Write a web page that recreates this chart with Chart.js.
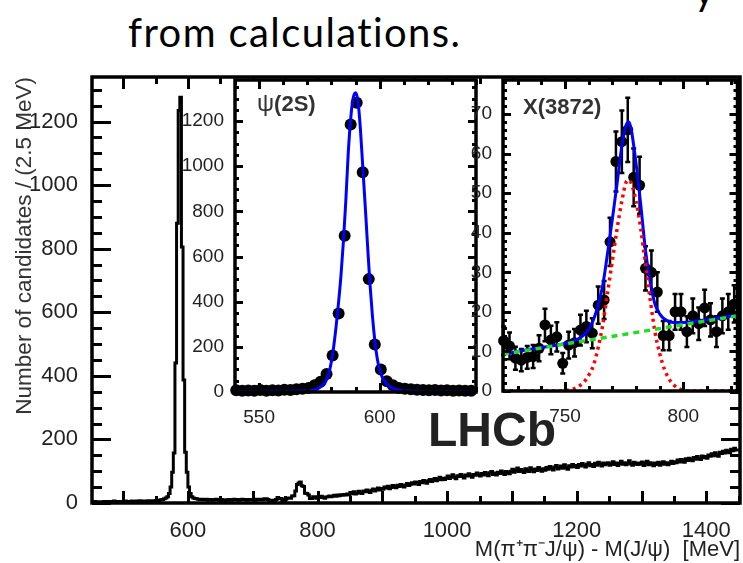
<!DOCTYPE html>
<html lang="en">
<head>
  <meta charset="UTF-8">
  <title>LHCb M(pi pi J/psi) - M(J/psi)</title>
  <script src="https://cdn.jsdelivr.net/npm/chart.js"></script>
  <style>
    body { margin: 0; background: #fff; }
    .page {
      position: relative;
      width: 743px;
      height: 563px;
      overflow: hidden;
      font-family: "Liberation Sans", Arial, sans-serif;
    }
    .page canvas { position: absolute; left: 0; top: 0; }
    .slide-text {
      position: absolute;
      left: 128px;
      top: 12px;
      font-family: Lato, "Open Sans", sans-serif;
      font-size: 40px;
      line-height: 40px;
      letter-spacing: 1.4px;
      color: #000;
      white-space: nowrap;
    }
    .slide-tail { left: 694px; top: -30px; }
    .lhcb {
      position: absolute;
      left: 428px;
      top: 402px;
      font-size: 48px;
      font-weight: bold;
      color: #222;
    }
    .inset-label {
      position: absolute;
      font-size: 22px;
      font-weight: bold;
      color: #333;
    }
    .inset-label .psi { font-weight: normal; font-size: 24px; }
  </style>
</head>
<body>
<div class="page">
  <div class="slide-text slide-tail">y</div>
  <div class="slide-text">from calculations.</div>
  <canvas id="mainChart" width="743" height="563"></canvas>
  <canvas id="psiChart" width="743" height="563"></canvas>
  <canvas id="xChart" width="743" height="563"></canvas>
  <div class="lhcb">LHCb</div>
  <div class="inset-label" style="left:257px; top:89px;"><span class="psi">ψ</span>(2S)</div>
  <div class="inset-label" style="left:523px; top:94px;">X(3872)</div>
</div>

<script>
  // ---- main histogram: candidates per 2.5 MeV, bins starting at 450 MeV ----
  const mainStart = 450;
  const mainBin = 2.5;
  const mainCounts = [
    3, 4, 2, 5, 3, 4, 3, 2, 4, 5, 3, 4, 5, 3, 4, 6, 4, 3, 5, 4,                          // 450-500
    5, 4, 6, 3, 5, 4, 6, 5, 4, 6, 5, 7, 4, 6, 5, 6, 7, 5, 6, 7,                          // 500-550
    6, 8, 7, 9, 10, 11, 13, 16, 20, 30, 50, 97, 157, 440, 880, 1235, 1276, 805, 387, 160, // 550-600
    97, 50, 30, 20, 16, 14, 13, 12, 11, 12, 10, 11, 12, 9, 10, 11, 9, 10, 12, 10,         // 600-650
    9, 11, 10, 8, 10, 9, 11, 10, 9, 12, 10, 11, 9, 10, 12, 11, 10, 9, 11, 10,             // 650-700
    10, 11, 9, 12, 10, 11, 12, 10, 13, 13, 11, 8, 8, 9, 9, 11, 17, 13, 14, 7,             // 700-750
    12, 12, 15, 16, 15, 22, 23, 38, 58, 63, 66, 54, 52, 31, 30, 25, 14, 14, 20, 20,       // 750-800
    15, 19, 17, 21, 18, 15, 19, 20, 22, 20, 22, 24, 21, 25, 23, 26, 24, 27, 25, 28,       // 800-850
    26, 33, 29, 35, 28, 31, 37, 33, 30, 38, 35, 41, 36, 33, 40, 44, 38, 42, 47, 41,       // 850-900
    46, 43, 50, 47, 53, 45, 49, 55, 51, 48, 56, 52, 58, 54, 50, 57, 61, 55, 59, 64,       // 900-950
    60, 66, 63, 58, 68, 64, 71, 67, 62, 70, 74, 68, 72, 77, 70, 75, 81, 73, 78, 74,       // 950-1000
    79, 85, 77, 82, 89, 81, 76, 86, 83, 90, 84, 79, 88, 85, 92, 86, 81, 90, 87, 94,       // 1000-1050
    89, 85, 93, 88, 96, 91, 86, 95, 99, 90, 94, 88, 97, 93, 101, 95, 90, 99, 96, 92,      // 1050-1100
    100, 106, 97, 103, 110, 99, 105, 101, 96, 108, 103, 99, 111, 104, 98, 107, 102, 112, 105, 100, // 1100-1150
    108, 103, 112, 106, 115, 109, 104, 113, 118, 107, 111, 116, 109, 120, 112, 106, 117, 113, 121, 114, // 1150-1200
    118, 112, 121, 116, 124, 119, 113, 122, 127, 117, 121, 115, 125, 119, 128, 122, 116, 126, 120, 124, // 1200-1250
    127, 119, 123, 130, 121, 126, 118, 124, 131, 122, 127, 120, 125, 133, 123, 119, 128, 124, 121, 126, // 1250-1300
    122, 129, 118, 125, 131, 120, 127, 123, 117, 126, 121, 128, 119, 124, 130, 122, 127, 120, 125, 131, // 1300-1350
    124, 130, 127, 135, 129, 137, 132, 128, 139, 134, 141, 136, 133, 143, 138, 146, 140, 137, 148, 142, // 1350-1400
    146, 141, 151, 147, 155, 149, 158, 152, 147, 160, 156, 163, 157, 166, 161, 158, 169, 164, 172, 167  // 1400-1450
  ];
  const mainXTicks = [600, 800, 1000, 1200, 1400];
  const mainYTicks = [0, 200, 400, 600, 800, 1000, 1200];

  // ---- psi(2S) inset ----
  const psiStart = 540.5;
  const psiBin = 2.5;
  const psiCounts = [8, 6, 7, 5, 9, 6, 8, 7, 10, 9, 12, 14, 18, 30, 45, 80, 162, 348, 692, 1185,
                     1281, 973, 500, 210, 100, 48, 30, 18, 14, 12, 10, 9, 8, 9, 7, 8, 6, 7, 6, 5];
  const psiFitX = [541, 560, 566, 570, 572, 574, 575, 576, 577, 578, 579, 580, 581, 582, 583, 584, 585,
                   586, 587, 588, 589, 590, 591, 592, 593, 594, 595, 596, 597, 598, 599, 600, 601, 602,
                   603, 604, 605, 606, 608, 610, 612, 615, 620, 639];
  const psiFitY = [2, 3, 4, 5, 8, 14, 19, 27, 38, 55, 85, 135, 205, 295, 400, 520, 670,
                   850, 1060, 1210, 1300, 1325, 1290, 1170, 1000, 830, 650, 480, 340, 230, 150, 100, 68, 48,
                   35, 26, 20, 15, 9, 6, 4, 3, 2, 2];
  const psiBgX = [540, 640];
  const psiBgY = [1, 1];
  const psiXTicks = [550, 600];
  const psiYTicks = [0, 200, 400, 600, 800, 1000, 1200];

  // ---- X(3872) inset ----
  const xStart = 724;
  const xBin = 2.5;
  const xCounts = [12.7, 11.4, 8.3, 7.8, 8.5, 8.7, 10.8, 16.7, 12.9, 13.7, 7.0, 11.6, 12.2, 15.4, 16.3, 14.6,
                   21.7, 23, 37.7, 58, 63, 66, 54, 52, 31, 30, 25, 14, 14, 20, 20, 15, 19, 17, 21, 18, 15, 19, 20, 22];
  const xErrors = [3.6, 3.4, 2.9, 2.8, 2.9, 2.9, 3.3, 4.1, 3.6, 3.7, 2.6, 3.4, 3.5, 3.9, 4.0, 3.8,
                   4.7, 4.8, 6.1, 7.6, 7.9, 8.1, 7.3, 7.2, 5.6, 5.5, 5.0, 3.7, 3.7, 4.5, 4.5, 3.9, 4.4, 4.1, 4.6, 4.2, 3.9, 4.4, 4.5, 4.7];
  const xFitX = [723.75, 730, 740, 750, 755, 758, 760, 762, 764, 766, 768, 770, 772, 774, 776, 777, 778,
                 780, 782, 784, 786, 788, 790, 792, 795, 800, 805, 810, 815, 822.9];
  const xFitY = [9.3, 10, 11, 12, 13, 14.2, 15.6, 18, 21.8, 27, 35, 43.5, 52.5, 62, 67.5, 68, 66,
                 57.5, 47, 35.5, 27.5, 22, 19.5, 18.2, 17.4, 17.3, 17.6, 18, 18.5, 19.2];
  const xSigX = [723.75, 748, 752, 755, 758, 760, 762, 764, 766, 768, 770, 772, 774, 776, 777, 778, 780,
                 782, 784, 786, 788, 790, 792, 794, 796, 798, 800, 804, 822.9];
  const xSigY = [0, 0, 0.3, 0.9, 2.3, 4, 6.5, 11, 17, 25, 33, 41, 48, 53, 53.3, 52.5, 48,
                 41, 32, 23, 15, 9.5, 5.5, 3, 1.5, 0.6, 0.2, 0, 0];
  const xBgX = [723.75, 822.9];
  const xBgY = [9.3, 19.0];
  const xZeroY = [0, 0];
  const xXTicks = [750, 800];
  const xYTicks = [0, 10, 20, 30, 40, 50, 60, 70];

  const pts = (xs, ys) => xs.map((x, i) => ({ x: x, y: ys[i] }));
  const binned = (start, w, ys) => ys.map((y, i) => ({ x: start + i * w, y: y }));

  // ROOT style frame: white pad, inward ticks on all four sides
  function rootFrame(name, cfg) {
    return {
      id: 'frame_' + name,
      beforeDraw(chart) {
        if (!cfg.fill) return;
        const { ctx, chartArea: a } = chart;
        ctx.save();
        ctx.fillStyle = cfg.fill;
        ctx.fillRect(a.left, a.top, a.right - a.left, a.bottom - a.top);
        ctx.restore();
      },
      afterDraw(chart) {
        const { ctx, chartArea: a } = chart;
        const sx = chart.scales.x, sy = chart.scales.y;
        ctx.save();
        ctx.strokeStyle = '#000';
        ctx.lineWidth = cfg.tickWidth;
        const xTicks = (step, len) => {
          for (let i = Math.ceil(sx.min / step); i * step <= sx.max; i++) {
            const p = Math.round(sx.getPixelForValue(i * step)) + 0.5;
            ctx.beginPath();
            ctx.moveTo(p, a.bottom); ctx.lineTo(p, a.bottom - len);
            ctx.moveTo(p, a.top); ctx.lineTo(p, a.top + len);
            ctx.stroke();
          }
        };
        const yTicks = (step, len) => {
          for (let i = Math.ceil(sy.min / step); i * step <= sy.max; i++) {
            const p = Math.round(sy.getPixelForValue(i * step)) + 0.5;
            ctx.beginPath();
            ctx.moveTo(a.left, p); ctx.lineTo(a.left + len, p);
            ctx.moveTo(a.right, p); ctx.lineTo(a.right - len, p);
            ctx.stroke();
          }
        };
        xTicks(cfg.xMinor, cfg.xMinorLen);
        xTicks(cfg.xMajor, cfg.xMajorLen);
        yTicks(cfg.yMinor, cfg.yMinorLen);
        yTicks(cfg.yMajor, cfg.yMajorLen);
        ctx.lineWidth = cfg.frameWidth;
        ctx.strokeRect(a.left, a.top, a.right - a.left, a.bottom - a.top);
        ctx.restore();
      }
    };
  }

  // vertical error bars with small caps, drawn under the markers
  function errorBars(start, width, values, errors) {
    return {
      id: 'errorBars',
      beforeDatasetsDraw(chart) {
        const { ctx, scales: { x, y } } = chart;
        ctx.save();
        ctx.strokeStyle = '#000';
        ctx.lineWidth = 2.5;
        values.forEach((v, i) => {
          const px = x.getPixelForValue(start + i * width);
          const top = y.getPixelForValue(v + errors[i]);
          const bot = y.getPixelForValue(Math.max(0, v - errors[i]));
          ctx.beginPath();
          ctx.moveTo(px, top); ctx.lineTo(px, bot);
          ctx.moveTo(px - 2.5, top); ctx.lineTo(px + 2.5, top);
          ctx.moveTo(px - 2.5, bot); ctx.lineTo(px + 2.5, bot);
          ctx.stroke();
        });
        ctx.restore();
      }
    };
  }

  const tickFont = (size) => ({ family: '"Liberation Sans", Arial, sans-serif', size: size });

  function axisX(min, max, ticks, height, size, pad, title) {
    return {
      type: 'linear', min: min, max: max,
      afterBuildTicks: s => { s.ticks = ticks.map(v => ({ value: v })); },
      afterFit: s => { s.height = height; },
      grid: { display: false }, border: { display: false },
      ticks: { color: '#222', font: tickFont(size), padding: pad, maxRotation: 0, autoSkip: false,
               callback: v => String(v) },
      title: title || { display: false }
    };
  }
  function axisY(min, max, ticks, width, size, pad, title) {
    return {
      type: 'linear', min: min, max: max,
      afterBuildTicks: s => { s.ticks = ticks.map(v => ({ value: v })); },
      afterFit: s => { s.width = width; },
      grid: { display: false }, border: { display: false },
      ticks: { color: '#222', font: tickFont(size), padding: pad, autoSkip: false,
               callback: v => String(v) },
      title: title || { display: false }
    };
  }

  const common = { responsive: false, animation: false, parsing: false };
  const quiet = { legend: { display: false }, tooltip: { enabled: false } };

  new Chart(document.getElementById('mainChart'), {
    type: 'line',
    data: {
      datasets: [{
        data: binned(mainStart, mainBin, mainCounts.concat([mainCounts[mainCounts.length - 1]])),
        stepped: 'after',
        borderColor: '#000',
        borderWidth: 3,
        pointRadius: 0
      }]
    },
    options: {
      ...common,
      layout: { padding: { left: 0, top: 77, right: 3, bottom: 0 } },
      scales: {
        x: axisX(452, 1452, mainXTicks, 60, 22, 7, {
          display: true, text: 'M(π⁺π⁻J/ψ) - M(J/ψ)  [MeV]', align: 'end',
          color: '#222', font: tickFont(22), padding: { top: 0, bottom: 0 }
        }),
        y: axisY(0, 1340, mainYTicks, 92, 22, 6, {
          display: true, text: 'Number of candidates / (2.5 MeV)', align: 'end',
          color: '#333', font: tickFont(22.5), padding: { top: 11, bottom: 0 }
        })
      },
      plugins: quiet
    },
    plugins: [rootFrame('main', { xMajor: 100, xMinor: 50, yMajor: 200, yMinor: 50,
      xMajorLen: 12, xMinorLen: 7, yMajorLen: 19, yMinorLen: 10, tickWidth: 3, frameWidth: 3.5 })]
  });

  new Chart(document.getElementById('psiChart'), {
    type: 'line',
    data: {
      datasets: [
        { data: binned(psiStart, psiBin, psiCounts), showLine: false, pointRadius: 6, pointBackgroundColor: '#000',
          pointBorderWidth: 0, clip: false, order: 3 },
        { data: pts(psiFitX, psiFitY), borderColor: '#0000ff', borderWidth: 3, pointRadius: 0,
          cubicInterpolationMode: 'monotone', order: 2 },
        { data: pts(psiBgX, psiBgY), borderColor: '#33ff33', borderWidth: 2, borderDash: [2, 3], pointRadius: 0, order: 1 }
      ]
    },
    options: {
      ...common,
      layout: { padding: { left: 0, top: 80, right: 267, bottom: 0 } },
      scales: {
        x: axisX(540, 640, psiXTicks, 171, 19, 6),
        y: axisY(0, 1382, psiYTicks, 235, 19, 3)
      },
      plugins: quiet
    },
    plugins: [rootFrame('psi', { fill: '#fff', xMajor: 50, xMinor: 10, yMajor: 200, yMinor: 50,
      xMajorLen: 9, xMinorLen: 5, yMajorLen: 8, yMinorLen: 4, tickWidth: 3, frameWidth: 3.5 })]
  });

  new Chart(document.getElementById('xChart'), {
    type: 'line',
    data: {
      datasets: [
        { data: binned(xStart, xBin, xCounts), showLine: false, pointRadius: 5.5, pointBackgroundColor: '#000',
          pointBorderWidth: 0, clip: false, order: 5 },
        { data: pts(xBgX, xZeroY), borderColor: '#0000ff', borderWidth: 2, pointRadius: 0, order: 4 },
        { data: pts(xFitX, xFitY), borderColor: '#0000ff', borderWidth: 3, pointRadius: 0,
          cubicInterpolationMode: 'monotone', order: 3 },
        { data: pts(xSigX, xSigY), borderColor: '#ff0000', borderWidth: 3.5, borderDash: [3, 4], pointRadius: 0,
          cubicInterpolationMode: 'monotone', order: 2 },
        { data: pts(xBgX, xBgY), borderColor: '#22dd22', borderWidth: 3.5, borderDash: [6, 5], pointRadius: 0, order: 1 }
      ]
    },
    options: {
      ...common,
      layout: { padding: { left: 0, top: 80, right: 3, bottom: 0 } },
      scales: {
        x: axisX(723.75, 822.9, xXTicks, 172, 19, 6),
        y: axisY(0, 78.6, xYTicks, 503, 19, 3)
      },
      plugins: quiet
    },
    plugins: [
      rootFrame('x', { fill: '#fff', xMajor: 50, xMinor: 10, yMajor: 10, yMinor: 2,
        xMajorLen: 9, xMinorLen: 5, yMajorLen: 8, yMinorLen: 4, tickWidth: 3, frameWidth: 3.5 }),
      errorBars(xStart, xBin, xCounts, xErrors)
    ]
  });
</script>
</body>
</html>
